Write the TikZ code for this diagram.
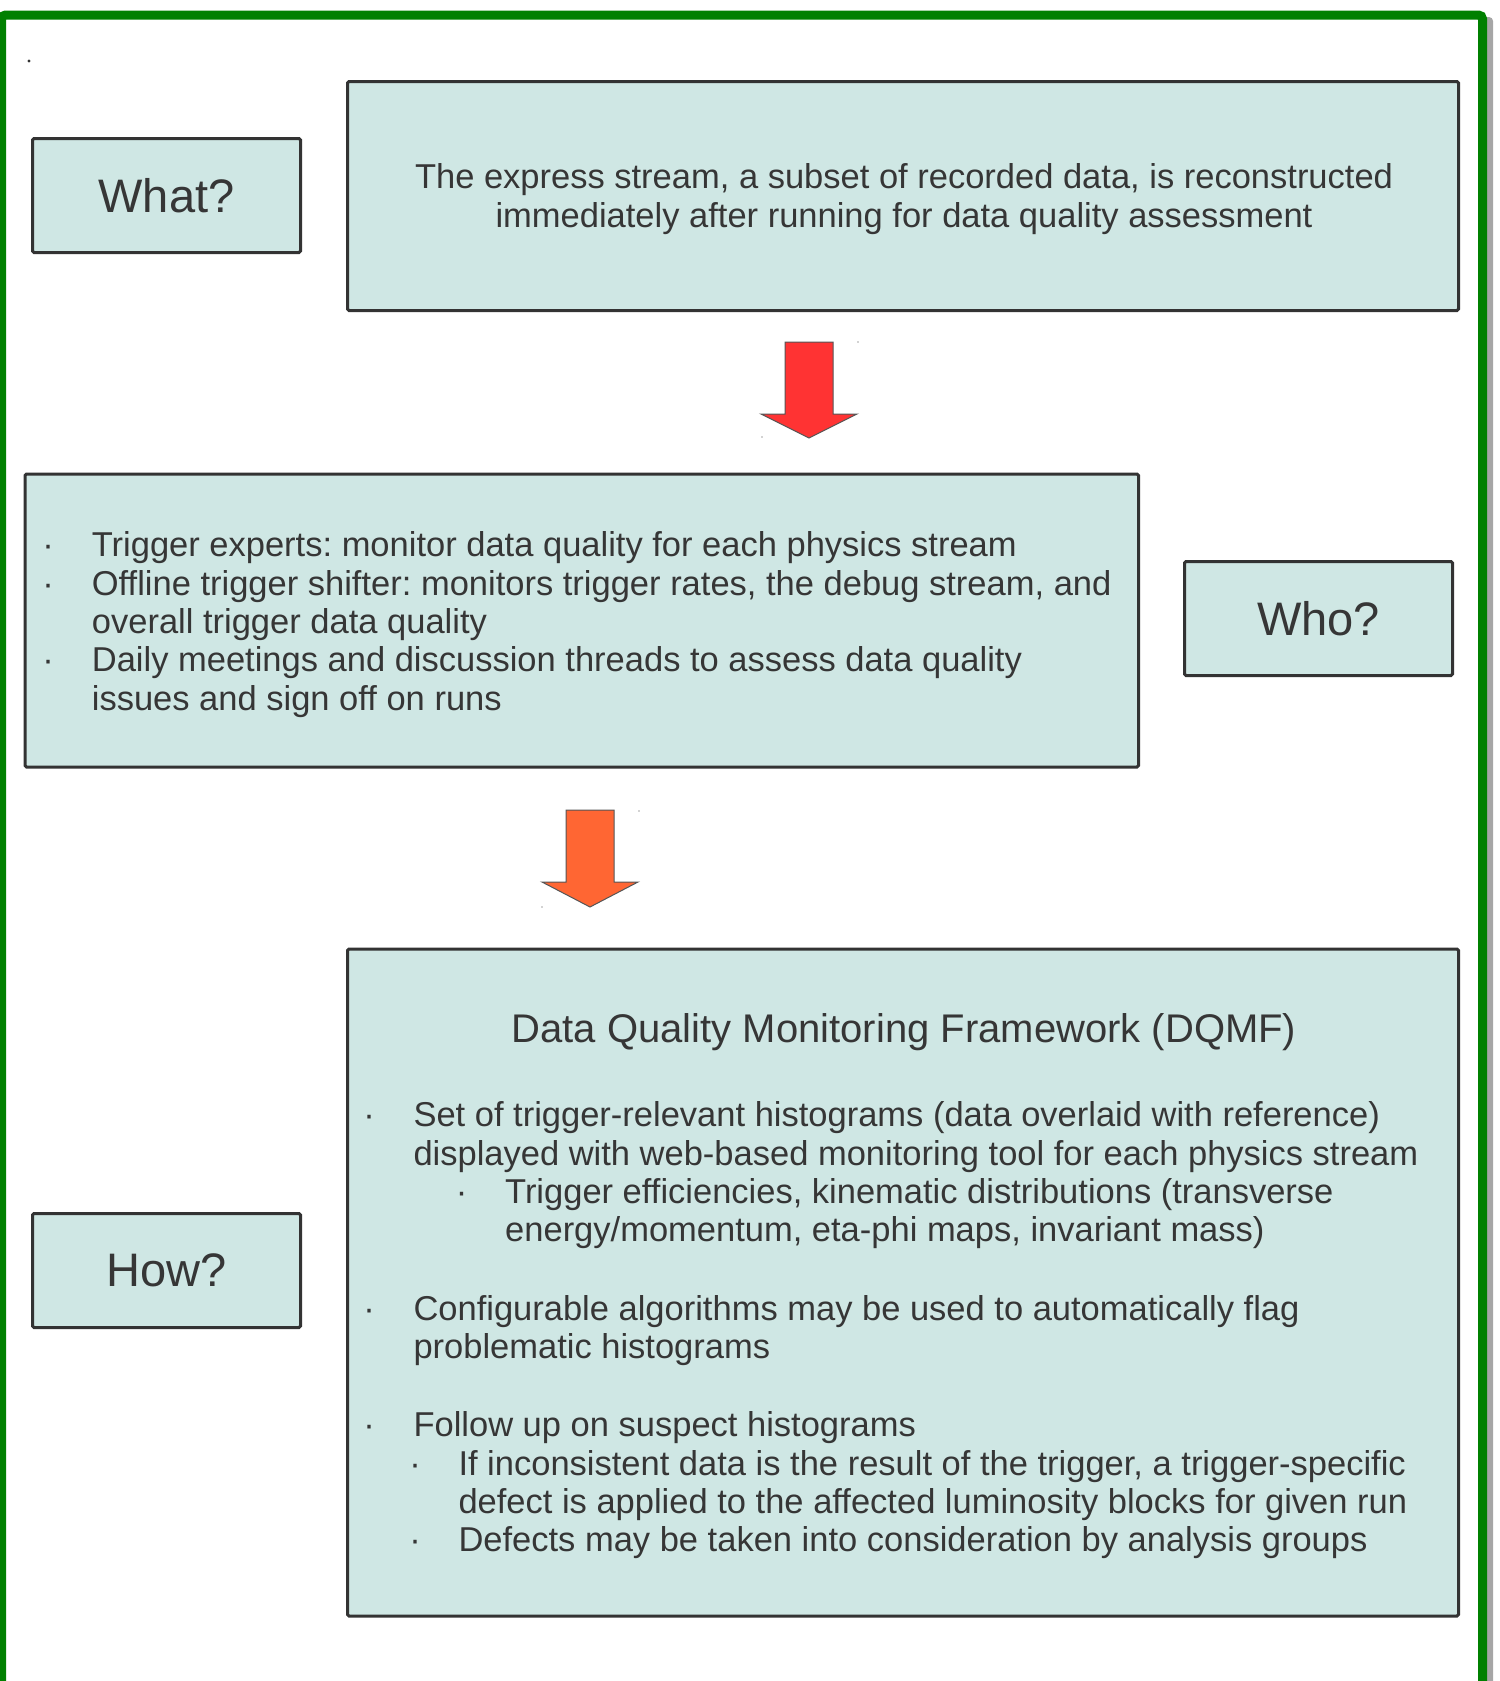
\documentclass[tikz,border=0pt]{standalone}
\usepackage{fontspec}
\setmainfont{Liberation Sans}
\frenchspacing
\definecolor{boxfill}{HTML}{CFE7E4}
\definecolor{boxline}{HTML}{333333}
\definecolor{textc}{HTML}{363636}
\definecolor{framegreen}{HTML}{008000}
\definecolor{arrowred}{HTML}{FF3333}
\definecolor{arroworange}{HTML}{FF6633}
\definecolor{arrowedge}{HTML}{555555}
\begin{document}
\begin{tikzpicture}[x=1pt,y=-1pt,
  box/.style={draw=boxline, fill=boxfill, line width=3, rounded corners=1.5, inner sep=0, text=textc},
  qbox/.style={box, minimum width=268, minimum height=114, font=\fontsize{47}{52}\selectfont},
  txt/.style={anchor=base west, inner sep=0, text=textc, font=\fontsize{34.5}{38}\selectfont},
  ctxt/.style={txt, anchor=base},
  bul/.style={anchor=base, inner sep=0, text=textc, font=\fontsize{34.5}{38}\selectfont},
  blockarrow/.style={draw=arrowedge, line width=1},
  speck/.style={fill=black!35}
]
\path[use as bounding box] (0,0) rectangle (1499,1681);
\clip (0,0) rectangle (1499,1681);

% outer frame with shadow
\fill[black!35, rounded corners=4] (10,17) rectangle (1493,1760);
\draw[framegreen, line width=9, fill=white, rounded corners=4] (1.5,15) rectangle (1482.5,1750);
\fill[black!80] (29,61) circle (1.6);

% What?
\node[qbox] (what) at (166.5,195.5) {What?};
\node[box, minimum width=1111, minimum height=229] (express) at (903,196) {};
\node[ctxt] (e1) at (904,188.3) {The express stream, a subset of recorded data, is reconstructed};
\node[ctxt] (e2) at (904,227.3) {immediately after running for data quality assessment};

% arrow 1
\filldraw[blockarrow, fill=arrowred] (785,342) -- (833,342) -- (833,414) -- (857,414) -- (809,438) -- (761,414) -- (785,414) -- cycle;
\fill[speck] (858,342) circle (0.8);
\fill[speck] (762,437) circle (0.8);

% Who
\node[box, minimum width=1113.5, minimum height=293] (people) at (581.75,620.5) {};
\node[bul] (b1) at (48,556.7) {·};
\node[txt] (w1) at (91.7,556.7) {Trigger experts: monitor data quality for each physics stream};
\node[bul] (b2) at (48,595) {·};
\node[txt] (w2) at (91.7,595) {Offline trigger shifter: monitors trigger rates, the debug stream, and};
\node[txt] (w3) at (91.7,633.3) {overall trigger data quality};
\node[bul] (b3) at (48,671.7) {·};
\node[txt] (w4) at (91.7,671.7) {Daily meetings and discussion threads to assess data quality};
\node[txt] (w5) at (91.7,710) {issues and sign off on runs};
\node[qbox] (who) at (1318.5,618.5) {Who?};

% arrow 2
\filldraw[blockarrow, fill=arroworange] (566,810) -- (614,810) -- (614,882) -- (638,882) -- (590,907) -- (542,882) -- (566,882) -- cycle;
\fill[speck] (639,811) circle (0.8);
\fill[speck] (542,907) circle (0.8);

% How
\node[qbox] (how) at (166.5,1270.5) {How?};
\node[box, minimum width=1111, minimum height=667] (dqmfbox) at (903,1282.5) {};
\node[ctxt, font=\fontsize{40}{44}\selectfont] (title) at (904,1042.3) {Data Quality Monitoring Framework (DQMF)};
\node[bul] (c1) at (369,1126.7) {·};
\node[txt] (h1) at (413.3,1126.7) {Set of trigger-relevant histograms (data overlaid with reference)};
\node[txt] (h2) at (413.3,1165) {displayed with web-based monitoring tool for each physics stream};
\node[bul] (c2) at (461.7,1203.3) {·};
\node[txt] (h3) at (505,1203.3) {Trigger efficiencies, kinematic distributions (transverse};
\node[txt] (h4) at (505,1241.7) {energy/momentum, eta-phi maps, invariant mass)};
\node[bul] (c3) at (369,1320) {·};
\node[txt] (h5) at (413.3,1320) {Configurable algorithms may be used to automatically flag};
\node[txt] (h6) at (413.3,1358.3) {problematic histograms};
\node[bul] (c4) at (369,1436) {·};
\node[txt] (h7) at (413.3,1436) {Follow up on suspect histograms};
\node[bul] (c5) at (415,1475) {·};
\node[txt] (h8) at (458.3,1475) {If inconsistent data is the result of the trigger, a trigger-specific};
\node[txt] (h9) at (458.3,1513.3) {defect is applied to the affected luminosity blocks for given run};
\node[bul] (c6) at (415,1551.7) {·};
\node[txt] (h10) at (458.3,1551.7) {Defects may be taken into consideration by analysis groups};
\end{tikzpicture}
\end{document}
